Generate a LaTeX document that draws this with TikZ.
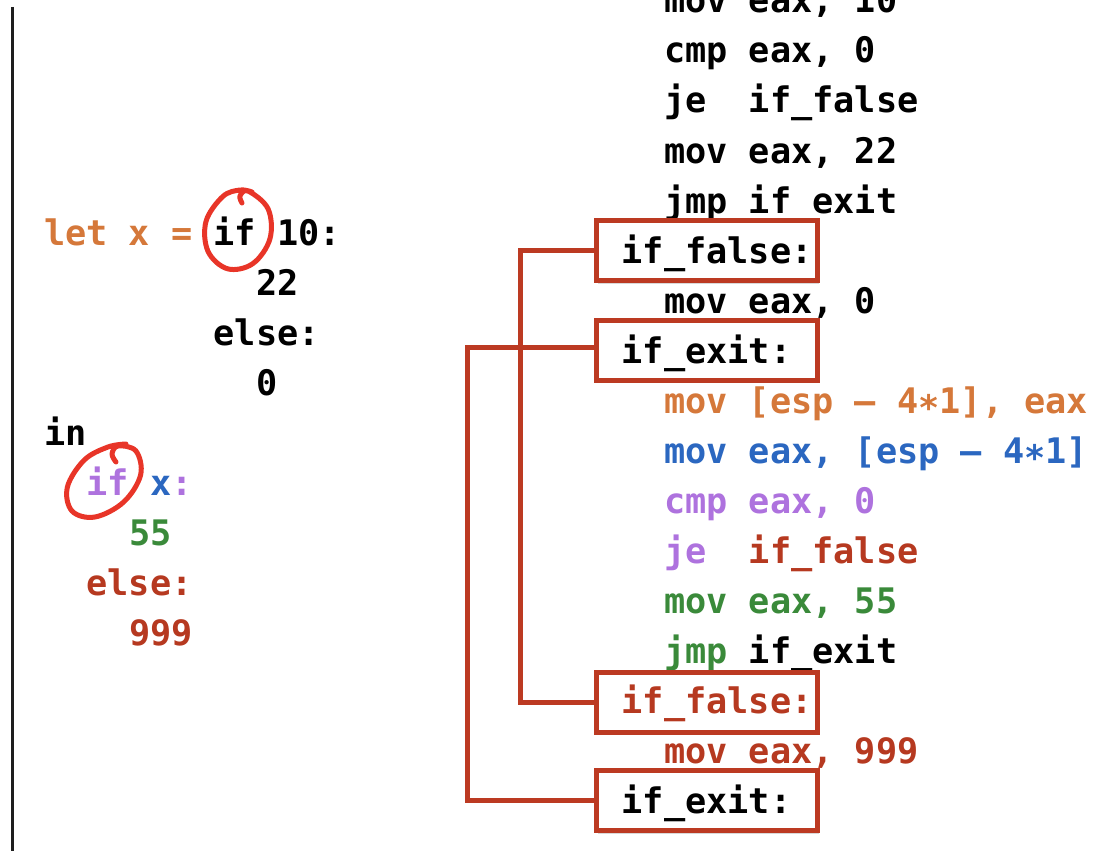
\documentclass[tikz,border=0pt]{standalone}
\usepackage{fontspec}
\newfontfamily\codefont{DejaVu Sans Mono}
\usetikzlibrary{shadows,calc}

\definecolor{cOrange}{RGB}{213,120,58}
\definecolor{cBlue}{RGB}{43,103,192}
\definecolor{cPurple}{RGB}{174,114,222}
\definecolor{cGreen}{RGB}{58,138,58}
\definecolor{cRed}{RGB}{182,57,32}
\definecolor{boxRed}{RGB}{188,58,34}
\definecolor{markRed}{RGB}{232,53,40}
\definecolor{rulegray}{RGB}{30,30,30}

\newcommand{\mstar}{\raisebox{-0.22em}{*}}
\newcommand{\mdash}{–}

\begin{document}
\begin{tikzpicture}[x=1pt,y=-1pt,
  code/.style={anchor=base west, inner sep=0pt,
    font=\codefont\bfseries\fontsize{35.2}{42}\selectfont},
  labelbox/.style={draw=boxRed, line width=5pt, fill=white,
    minimum width=221pt, minimum height=60pt, inner sep=0pt,
    drop shadow={shadow xshift=1.5pt, shadow yshift=-3pt, opacity=0.3}},
  jumpline/.style={draw=boxRed, line width=5pt, line join=miter},
  inkmark/.style={draw=markRed, line width=5pt, line cap=round, line join=round}
]
\useasboundingbox (0,0) rectangle (1106,851);
\clip (0,0) rectangle (1106,851);

% left rule
\draw[rulegray, line width=3pt] (12,7) -- (12,851);

% source program
\node[code] (s1) at (44,245) {\textcolor{cOrange}{let x =} if 10:};
\node[code] (s2) at (256,295) {22};
\node[code] (s3) at (213.6,345) {else:};
\node[code] (s4) at (256,395) {0};
\node[code] (s5) at (44,445) {in};
\node[code] (s6) at (86.4,495) {\textcolor{cPurple}{if} \textcolor{cBlue}{x}\textcolor{cPurple}{:}};
\node[code, text=cGreen] (s7) at (128.8,545) {55};
\node[code, text=cRed] (s8) at (86.4,595) {else:};
\node[code, text=cRed] (s9) at (128.8,645) {999};

% hand-drawn marks around the two ifs
\draw[inkmark] plot[smooth, tension=0.6] coordinates {(242,203) (240,196) (248,191) (268,208.7) (270,238.6)
  (253,263.5) (227.6,268.8) (208,251.3) (206,221.4) (222.8,196.5) (240,190) (252,192)};
\draw[inkmark] plot[smooth, tension=0.6] coordinates {(116,462) (112,454) (118,446) (136,451) (140.6,475)
  (123.7,502) (95,517) (72,511) (67.4,487) (84.3,460) (108,447) (126,444)};

% assembly listing
\node[code] (a0)  at (664,13)  {mov eax, 10};
\node[code] (a1)  at (664,63)  {cmp eax, 0};
\node[code] (a2)  at (664,113) {je\ \ if\_false};
\node[code] (a3)  at (664,163) {mov eax, 22};
\node[code] (a4)  at (664,213) {jmp if\_exit};
\node[code] (a6)  at (664,313) {mov eax, 0};
\node[code, text=cOrange] (a8)  at (664,413) {mov [esp \mdash{} 4\mstar1], eax};
\node[code, text=cBlue]   (a9)  at (664,463) {mov eax, [esp \mdash{} 4\mstar1]};
\node[code, text=cPurple] (a10) at (664,513) {cmp eax, 0};
\node[code] (a11) at (664,563) {\textcolor{cPurple}{je}\ \ \textcolor{cRed}{if\_false}};
\node[code, text=cGreen]  (a12) at (664,613) {mov eax, 55};
\node[code] (a13) at (664,663) {\textcolor{cGreen}{jmp} if\_exit};
\node[code, text=cRed]    (a15) at (664,763) {mov eax, 999};

% jump edges to the labels
\coordinate (f1) at (707,250.5);
\coordinate (e1) at (707,350);
\coordinate (f2) at (707,702);
\coordinate (e2) at (707,800.5);
\draw[jumpline] ($(f1)+(-110,0)$) -- ++(-77,0) |- ($(f2)+(-110,0)$);
\draw[jumpline] ($(e1)+(-110,-2.5)$) -- ++(-130,0) |- ($(e2)+(-110,0)$);

% label boxes
\node[labelbox] (b1) at (f1) {};
\node[labelbox] (b2) at (e1) {};
\node[labelbox] (b3) at (f2) {};
\node[labelbox] (b4) at (e2) {};

\node[code] (l1) at (621.6,263) {if\_false:};
\node[code] (l2) at (621.6,363) {if\_exit:};
\node[code, text=cRed] (l3) at (621.6,713) {if\_false:};
\node[code] (l4) at (621.6,813) {if\_exit:};
\end{tikzpicture}
\end{document}
